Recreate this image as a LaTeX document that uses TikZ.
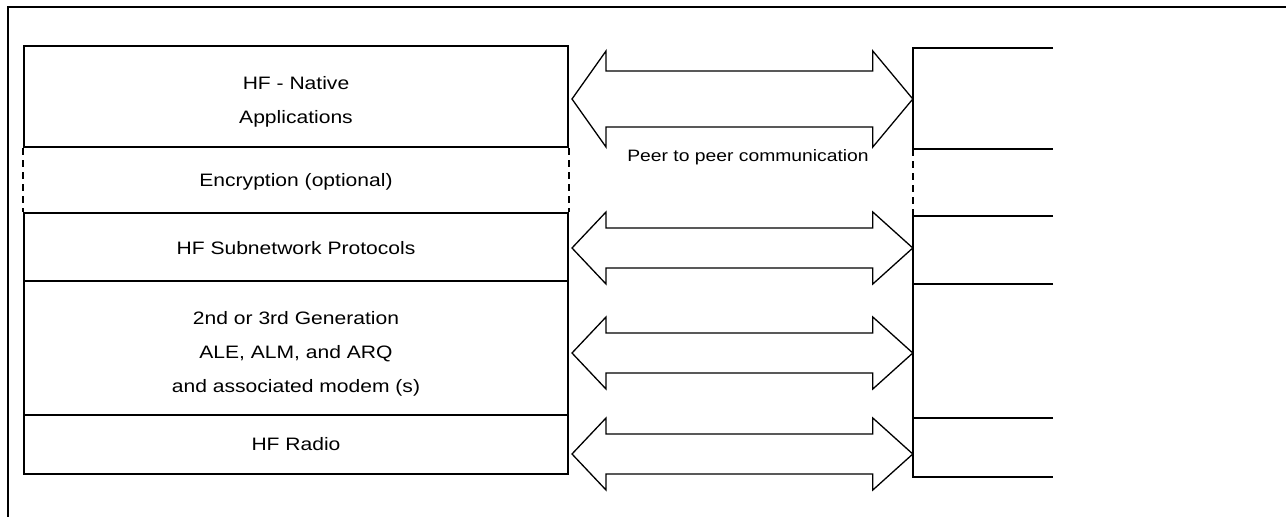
\documentclass[tikz,border=0pt]{standalone}
\usepackage{fontspec}
\setmainfont{Liberation Sans}[FakeStretch=1.17]
\usetikzlibrary{calc}

% block arrow between a layer and its peer: left node, right node, mid y, head half, shaft half
\newcommand{\peerarrow}[5]{%
  \coordinate (#1-tip) at ($(#1.east |- 0,#3)+(3,0)$);
  \coordinate (#2-tip) at (#2.west |- 0,#3);
  \draw[peerline] (#1-tip) -- ++(34,-#4) -- ++(0,#4-#5) -- ($(#2-tip)+(-40,-#5)$) -- ++(0,#5-#4)
    -- (#2-tip) -- ++(-40,#4) -- ++(0,#5-#4) -- ($(#1-tip)+(34,#5)$) -- ++(0,#4-#5) -- cycle;}

\begin{document}
\begin{tikzpicture}[x=1pt,y=-1pt,
  layer/.style={draw, line width=2pt, minimum width=544pt, inner sep=0pt, align=center,
    font=\fontsize{18}{34}\selectfont},
  peerbox/.style={minimum width=140pt, inner sep=0pt},
  openside/.style={line width=2pt},
  gap/.style={line width=2.4pt, dash pattern=on 7pt off 5pt},
  peerline/.style={line width=1.3pt, line join=miter},
  frame/.style={line width=2.2pt}]
\useasboundingbox (0,0) rectangle (1286,517);

\draw[frame] (8,517) |- (1286,7);

% left stack
\node[layer, minimum height=101pt, text height=57pt] (nat) at (296,96.5) {HF - Native\\Applications};
\node[layer, draw=none, minimum height=66pt, text height=16pt] (enc) at (296,180) {Encryption (optional)};
\node[layer, minimum height=68pt, text height=15pt] (sub) at (296,247) {HF Subnetwork Protocols};
\node[layer, minimum height=134pt, text height=92pt] (gen) at (296,348) {2nd or 3rd Generation\\ALE, ALM, and ARQ\\and associated modem (s)};
\node[layer, minimum height=59pt] (rad) at (296,444.5) {HF Radio};

\draw[gap] (nat.south west) -- (sub.north west);
\draw[gap] (nat.south east) -- (sub.north east);

% right stack
\node[peerbox, minimum height=101pt] (rnat) at (983,98.5) {};
\node[peerbox, minimum height=66pt] (renc) at (983,182) {};
\node[peerbox, minimum height=68pt] (rsub) at (983,250) {};
\node[peerbox, minimum height=134pt] (rgen) at (983,351) {};
\node[peerbox, minimum height=59pt] (rrad) at (983,447.5) {};

\draw[openside] (rnat.north east) -| (rnat.south west) -- (rnat.south east);
\draw[openside] (rsub.north east) -| (rsub.south west) -- (rsub.south east);
\draw[openside] (rgen.north east) -| (rgen.south west) -- (rgen.south east);
\draw[openside] (rrad.north east) -| (rrad.south west) -- (rrad.south east);
\draw[gap] (rnat.south west) -- (rsub.north west);

% peer arrows
\peerarrow{nat}{rnat}{99}{48}{28}
\peerarrow{sub}{rsub}{248}{36}{20}
\peerarrow{gen}{rgen}{353}{36}{20}
\peerarrow{rad}{rrad}{454}{36}{20}

\node[font=\fontsize{16.5}{20}\selectfont] (peer) at (748,157) {Peer to peer communication};
\end{tikzpicture}
\end{document}
